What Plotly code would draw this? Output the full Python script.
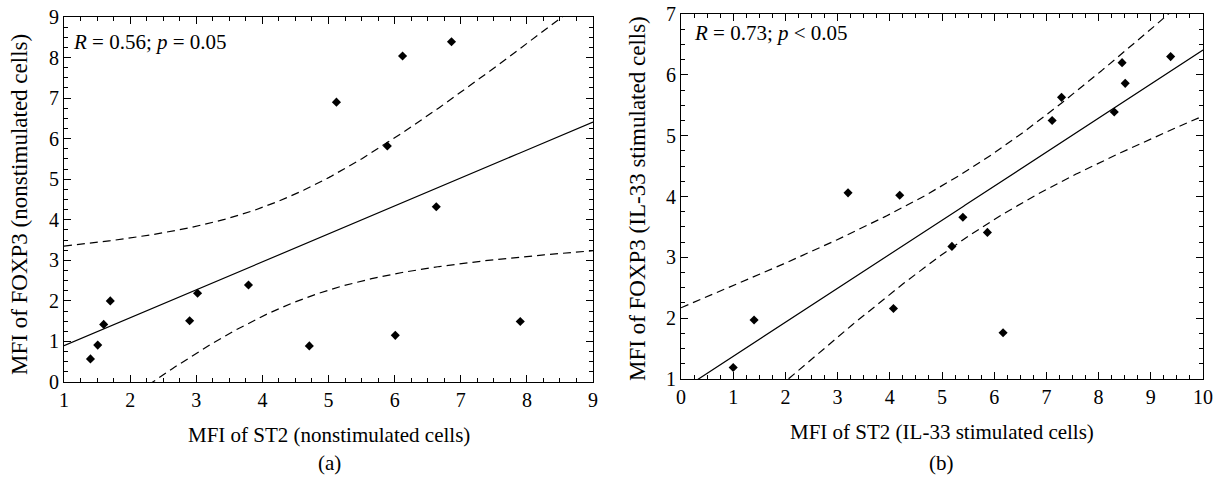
import math
import numpy as np
import plotly.graph_objects as go

# ---------------- data ----------------
# Panel (a): nonstimulated cells
st2_nonstim = [1.40, 1.51, 1.60, 1.70, 2.90, 3.02, 3.79, 4.71, 6.01, 7.90,
               5.12, 6.12, 6.86, 5.89, 6.63]
foxp3_nonstim = [0.57, 0.91, 1.42, 2.00, 1.51, 2.19, 2.39, 0.89, 1.15, 1.49,
                 6.90, 8.04, 8.39, 5.82, 4.32]

# Panel (b): IL-33 stimulated cells
st2_il33 = [1.00, 1.40, 3.20, 4.19, 4.07, 5.19, 5.40, 5.87, 6.17, 7.11,
            7.29, 8.30, 8.45, 8.51, 9.38]
foxp3_il33 = [1.19, 1.97, 4.06, 4.02, 2.16, 3.18, 3.66, 3.41, 1.76, 5.25,
              5.63, 5.39, 6.20, 5.86, 6.30]

stat_text_a = "<i>R</i> = 0.56; <i>p</i> = 0.05"
stat_text_b = "<i>R</i> = 0.73; <i>p</i> < 0.05"
xtitle_a = "MFI of ST2 (nonstimulated cells)"
ytitle_a = "MFI of FOXP3 (nonstimulated cells)"
xtitle_b = "MFI of ST2 (IL-33 stimulated cells)"
ytitle_b = "MFI of FOXP3 (IL-33 stimulated cells)"
panel_labels = ["(a)", "(b)"]

W, H = 1220, 481
FONT = "Liberation Serif"


def t_ppf(p, df):
    """Student t quantile via numeric CDF + bisection."""
    c = math.gamma((df + 1) / 2) / (math.sqrt(df * math.pi) * math.gamma(df / 2))

    def cdf(t):
        xs = np.linspace(0, t, 4001)
        pdf = c * (1 + xs ** 2 / df) ** (-(df + 1) / 2)
        return 0.5 + np.trapezoid(pdf, xs)

    lo, hi = 0.0, 50.0
    for _ in range(80):
        mid = (lo + hi) / 2
        if cdf(mid) < p:
            lo = mid
        else:
            hi = mid
    return (lo + hi) / 2


def regression_band(x, y, xgrid):
    x = np.asarray(x, float)
    y = np.asarray(y, float)
    n = len(x)
    slope, intercept = np.polyfit(x, y, 1)
    fit = intercept + slope * xgrid
    resid = y - (intercept + slope * x)
    s = math.sqrt(np.sum(resid ** 2) / (n - 2))
    sxx = np.sum((x - x.mean()) ** 2)
    se = s * np.sqrt(1.0 / n + (xgrid - x.mean()) ** 2 / sxx)
    t = t_ppf(0.975, n - 2)
    return fit, fit - t * se, fit + t * se


def px_x(v):
    return v / W


def px_y(v):
    return 1 - v / H


fig = go.Figure()

panels = [
    dict(x=st2_nonstim, y=foxp3_nonstim, xr=[1, 9], yr=[0, 9], xa="x", ya="y"),
    dict(x=st2_il33, y=foxp3_il33, xr=[0, 10], yr=[1, 7], xa="x2", ya="y2"),
]

for p in panels:
    xg = np.linspace(p["xr"][0], p["xr"][1], 400)
    fit, lo, hi = regression_band(p["x"], p["y"], xg)
    for band in (lo, hi):
        fig.add_trace(go.Scatter(x=xg, y=band, mode="lines", xaxis=p["xa"], yaxis=p["ya"],
                                 line=dict(color="black", width=1.2, dash="8px,5px"),
                                 showlegend=False, hoverinfo="skip"))
    fig.add_trace(go.Scatter(x=xg, y=fit, mode="lines", xaxis=p["xa"], yaxis=p["ya"],
                             line=dict(color="black", width=1.2),
                             showlegend=False, hoverinfo="skip"))
    fig.add_trace(go.Scatter(x=p["x"], y=p["y"], mode="markers", xaxis=p["xa"], yaxis=p["ya"],
                             marker=dict(symbol="diamond", size=7, color="black"),
                             showlegend=False))

tickfont = dict(family=FONT, size=20, color="black")


def axis_style(rng, domain, anchor):
    return dict(
        range=rng, domain=domain, anchor=anchor, automargin=False,
        tick0=0, dtick=1,
        ticks="inside", ticklen=7, tickwidth=1, tickcolor="black",
        showline=True, linecolor="black", linewidth=1, mirror="ticks",
        showgrid=False, zeroline=False,
        tickfont=tickfont,
        minor=dict(ticks="inside", dtick=0.25, ticklen=4, tickwidth=1,
                   tickcolor="black", showgrid=False),
    )


fig.update_layout(
    width=W, height=H, autosize=False,
    margin=dict(l=0, r=0, t=0, b=0, pad=0, autoexpand=False),
    paper_bgcolor="white", plot_bgcolor="white",
    font=dict(family=FONT, color="black"),
    xaxis=axis_style([1, 9], [px_x(64), px_x(593)], "y"),
    yaxis=axis_style([0, 9], [px_y(382), px_y(17)], "x"),
    xaxis2=axis_style([0, 10], [px_x(681), px_x(1203)], "y2"),
    yaxis2=axis_style([1, 7], [px_y(379), px_y(14)], "x2"),
)

ann_font = dict(family=FONT, size=21, color="black")
ytitle_font = dict(family=FONT, size=23, color="black")
annotations = [
    dict(text=stat_text_a, x=px_x(71), y=px_y(42), xanchor="left", yanchor="middle"),
    dict(text=stat_text_b, x=px_x(692), y=px_y(33), xanchor="left", yanchor="middle"),
    dict(text=xtitle_a, x=px_x(329), y=px_y(435), xanchor="center", yanchor="middle"),
    dict(text=xtitle_b, x=px_x(942), y=px_y(432), xanchor="center", yanchor="middle"),
    dict(text=ytitle_a, x=px_x(20), y=px_y(205), xanchor="center", yanchor="middle",
         textangle=-90, font=ytitle_font),
    dict(text=ytitle_b, x=px_x(637), y=px_y(198), xanchor="center", yanchor="middle",
         textangle=-90, font=ytitle_font),
    dict(text=panel_labels[0], x=px_x(329), y=px_y(463), xanchor="center", yanchor="middle"),
    dict(text=panel_labels[1], x=px_x(942), y=px_y(463), xanchor="center", yanchor="middle"),
]
for a in annotations:
    a.update(xref="paper", yref="paper", showarrow=False)
    a.setdefault("font", ann_font)
fig.update_layout(annotations=annotations)

fig.write_html("out.html",
               config={"displayModeBar": False},
               post_script="document.body.style.margin='0';document.body.style.overflow='hidden';")
